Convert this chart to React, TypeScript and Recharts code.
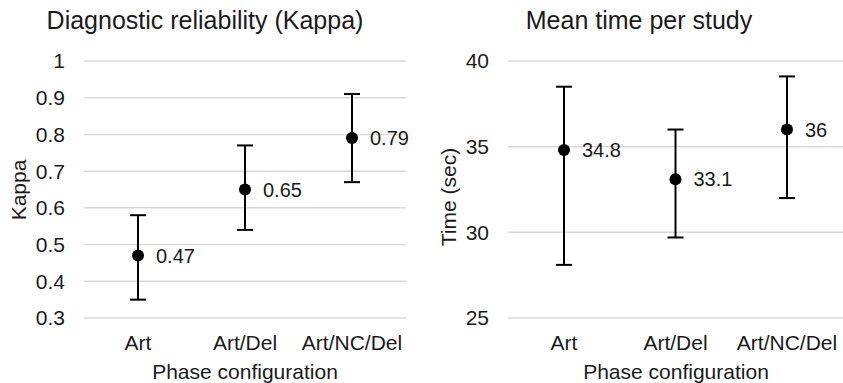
import React from 'react';
import { LineChart, Line, XAxis, YAxis, CartesianGrid, ErrorBar, LabelList } from 'recharts';

const categories = ['Art', 'Art/Del', 'Art/NC/Del'];

const kappaMean = [0.47, 0.65, 0.79];
const kappaLow = [0.35, 0.54, 0.67];
const kappaHigh = [0.58, 0.77, 0.91];
const kappaTicks = [0.3, 0.4, 0.5, 0.6, 0.7, 0.8, 0.9, 1];

const timeMean = [34.8, 33.1, 36];
const timeLow = [28.1, 29.7, 32];
const timeHigh = [38.5, 36, 39.1];
const timeTicks = [25, 30, 35, 40];

const FONT = '"Liberation Sans", Arial, sans-serif';
const TEXT = '#1a1a1a';

function build(mean: number[], low: number[], high: number[]) {
  return categories.map((c, i) => ({
    cat: c,
    v: mean[i],
    err: [+(mean[i] - low[i]).toFixed(3), +(high[i] - mean[i]).toFixed(3)],
  }));
}

const kappaData = build(kappaMean, kappaLow, kappaHigh);
const timeData = build(timeMean, timeLow, timeHigh);

const tickStyle = { fontSize: 21, fill: TEXT, fontFamily: FONT };

function Panel(props: {
  data: any[];
  ticks: number[];
  domain: [number, number];
  width: number;
  yWidth: number;
  marginRight: number;
  pad: number;
  left: number;
  title: string;
  titleX: number;
  yLabel: string;
  yLabelX: number;
  yLabelY: number;
  xLabelX: number;
}) {
  const { data, ticks, domain, width, yWidth, marginRight, left, pad } = props;
  const yLab = () => (
    <text
      x={props.yLabelX}
      y={props.yLabelY}
      transform={`rotate(-90 ${props.yLabelX} ${props.yLabelY})`}
      textAnchor="middle"
      dominantBaseline="central"
      fontSize={21}
      fill={TEXT}
      fontFamily={FONT}
    >
      {props.yLabel}
    </text>
  );
  return (
    <div style={{ position: 'absolute', left, top: 0, width, height: 383 }}>
      <LineChart
        width={width}
        height={383}
        data={data}
        margin={{ top: 61, right: marginRight, bottom: 0, left: 0 }}
      >
        <CartesianGrid vertical={false} stroke="#d9d9d9" strokeWidth={1.5} />
        <XAxis
          dataKey="cat"
          axisLine={false}
          tickLine={false}
          tickSize={0}
          tickMargin={17}
          height={65}
          tick={tickStyle}
          interval={0}
          padding={{ left: pad, right: pad }}
        />
        <YAxis
          type="number"
          domain={domain}
          ticks={ticks}
          interval={0}
          axisLine={false}
          tickLine={false}
          tickSize={0}
          tickMargin={19}
          width={yWidth}
          tick={tickStyle}
          label={{ content: yLab }}
        />
        <Line
          dataKey="v"
          stroke="none"
          isAnimationActive={false}
          dot={{ r: 6, fill: '#000', stroke: '#000', strokeWidth: 0 }}
          activeDot={false}
        >
          <ErrorBar dataKey="err" width={8} stroke="#000" strokeWidth={2} direction="y" />
          <LabelList
            dataKey="v"
            position="right"
            offset={18}
            style={{ fontSize: 20, fill: TEXT, fontFamily: FONT }}
          />
        </Line>
      </LineChart>
      <div
        style={{
          position: 'absolute',
          left: props.titleX,
          top: 6,
          transform: 'translateX(-50%)',
          whiteSpace: 'nowrap',
          fontFamily: FONT,
          fontSize: 25,
          color: TEXT,
        }}
      >
        {props.title}
      </div>
      <div
        style={{
          position: 'absolute',
          left: props.xLabelX,
          top: 360,
          transform: 'translateX(-50%)',
          whiteSpace: 'nowrap',
          fontFamily: FONT,
          fontSize: 21,
          color: TEXT,
        }}
      >
        Phase configuration
      </div>
    </div>
  );
}

export default function App() {
  return (
    <div style={{ position: 'absolute', left: 0, top: 0, width: 843, height: 383, background: '#fff', overflow: 'hidden' }}>
      <Panel
        data={kappaData}
        ticks={kappaTicks}
        domain={[0.3, 1]}
        width={420}
        yWidth={84}
        marginRight={14}
        pad={54}
        left={0}
        title="Diagnostic reliability (Kappa)"
        titleX={205}
        yLabel="Kappa"
        yLabelX={18}
        yLabelY={190}
        xLabelX={245}
      />
      <Panel
        data={timeData}
        ticks={timeTicks}
        domain={[25, 40]}
        width={423}
        yWidth={88}
        marginRight={0}
        pad={56}
        left={420}
        title="Mean time per study"
        titleX={219}
        yLabel="Time (sec)"
        yLabelX={28}
        yLabelY={197}
        xLabelX={256}
      />
    </div>
  );
}
